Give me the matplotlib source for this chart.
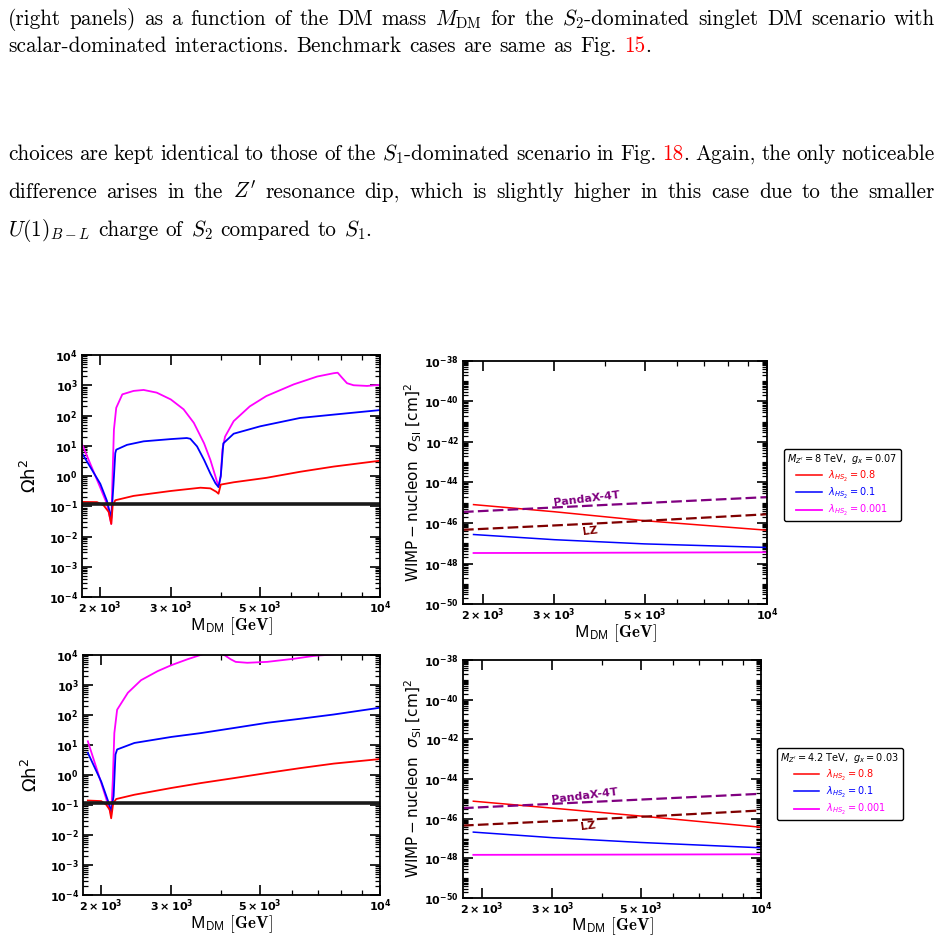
import matplotlib
matplotlib.use('Agg')
import matplotlib.pyplot as plt
import numpy as np
from matplotlib.ticker import LogLocator, LogFormatterSciNotation, NullFormatter

plt.rcParams['mathtext.fontset'] = 'dejavusans'

# ---------------- data ----------------
# relic density, M_Z' = 8 TeV, g_x = 0.07 (top row)
m8_red = [1800, 1962, 2039, 2099, 2130, 2148, 2180, 2422, 3000, 3559, 3768, 3900, 3948, 4000, 4308, 5200, 6316, 7660, 10000]
om8_red = [0.139, 0.137, 0.107, 0.065, 0.026, 0.107, 0.158, 0.22, 0.32, 0.41, 0.39, 0.30, 0.26, 0.52, 0.62, 0.87, 1.38, 2.05, 3.2]
m8_blue = [1800, 2000, 2078, 2130, 2157, 2180, 2192, 2332, 2566, 3000, 3290, 3357, 3490, 3634, 3768, 3881, 3948, 4000, 4060, 4308, 5021, 6316, 7660, 10000]
om8_blue = [5.7, 0.55, 0.15, 0.04, 0.5, 5.7, 7.4, 10.7, 14.0, 16.6, 18.0, 17.0, 9.5, 3.4, 1.2, 0.57, 0.43, 1.0, 12.0, 25.0, 44.0, 83.0, 107.0, 151.0]
m8_mag = [1800, 2000, 2078, 2130, 2148, 2163, 2192, 2270, 2422, 2566, 2767, 3000, 3230, 3426, 3634, 3768, 3881, 3948, 4000, 4038, 4100, 4308, 4726, 5200, 6088, 6966, 7660, 7838, 8030, 8270, 8590, 9280, 10000]
om8_mag = [11.4, 0.41, 0.12, 0.026, 1.6, 34.0, 180.0, 500.0, 650.0, 700.0, 570.0, 340.0, 160.0, 57.0, 12.0, 3.4, 0.95, 0.44, 1.0, 7.5, 20.0, 65.0, 200.0, 440.0, 1070.0, 1940.0, 2500.0, 2600.0, 1800.0, 1170.0, 1000.0, 950.0, 1030.0]

# relic density, M_Z' = 4.2 TeV, g_x = 0.03 (bottom row)
m42_red = [1851, 2000, 2059, 2099, 2118, 2143, 2180, 2422, 3000, 3559, 4308, 5213, 6316, 7658, 10000]
om42_red = [0.141, 0.135, 0.102, 0.07, 0.036, 0.115, 0.158, 0.22, 0.37, 0.54, 0.79, 1.17, 1.7, 2.4, 3.4]
m42_blue = [1851, 2000, 2087, 2118, 2148, 2171, 2192, 2422, 3000, 3559, 4308, 5213, 6316, 7658, 10000]
om42_blue = [5.5, 0.6, 0.12, 0.062, 0.2, 4.8, 7.1, 11.7, 18.6, 25.0, 37.0, 55.0, 75.0, 104.0, 175.0]
m42_mag = [1851, 2000, 2087, 2118, 2138, 2157, 2192, 2332, 2517, 2770, 3000, 3290, 3488, 3700, 3900, 4069, 4224, 4346, 4647, 5213, 6084, 6810, 7658, 10000]
om42_mag = [13.3, 0.54, 0.09, 0.047, 0.69, 25.0, 150.0, 550.0, 1450.0, 2900.0, 4600.0, 7200.0, 9300.0, 12000.0, 13000.0, 10000.0, 7200.0, 5900.0, 5500.0, 5900.0, 7500.0, 9300.0, 10500.0, 13000.0]

omega_planck = 0.12

# direct detection, sigma_SI [cm^2]
m_dd = [1900, 3000, 5000, 10000]
sig8_red = [8.1e-46, 3.6e-46, 1.3e-46, 4.4e-47]
sig8_blue = [2.7e-47, 1.5e-47, 9.3e-48, 6.2e-48]
sig8_mag = [3.3e-48, 3.35e-48, 3.45e-48, 3.6e-48]
sig42_red = [7.6e-46, 3.4e-46, 1.35e-46, 3.7e-47]
sig42_blue = [2.1e-47, 1.1e-47, 6.3e-48, 3.4e-48]
sig42_mag = [1.5e-48, 1.52e-48, 1.55e-48, 1.6e-48]

m_limit = [1790, 4000, 10000]
pandax_top = [3.5e-46, 7.8e-46, 1.9e-45]
lz_top = [4.6e-47, 1.0e-46, 2.7e-46]
pandax_bot = [3.4e-46, 7.4e-46, 1.8e-45]
lz_bot = [4.5e-47, 9.8e-47, 2.6e-46]

lambda_labels = [r'$\lambda_{HS_2} = 0.8$', r'$\lambda_{HS_2} = 0.1$', r'$\lambda_{HS_2} = 0.001$']
bench_titles = [r"$M_{Z'} = 8$ TeV,  $g_x = 0.07$", r"$M_{Z'} = 4.2$ TeV,  $g_x = 0.03$"]
x_ticks = [2000, 3000, 5000, 10000]

# ---------------- page ----------------
W, H = 946, 939
fig = plt.figure(figsize=(W / 100, H / 100), dpi=100)

REF_RED = '#ff0000'
FS_TEXT = 15.3
TEXT_KW = dict(fontfamily='cmr10', math_fontfamily='cm', fontsize=FS_TEXT,
               va='baseline', ha='left')
X_LEFT, X_RIGHT = 8, 935


def put_line(line, y_px, justify=True):
    rend = fig.canvas.get_renderer()
    parts = []
    for word in line.split(' '):
        texts = []
        for i, s in enumerate(word.split('|')):
            if s:
                texts.append(fig.text(0, 1 - y_px / H, s,
                                      color=REF_RED if i % 2 else 'black', **TEXT_KW))
        parts.append((texts, [t.get_window_extent(rend).width for t in texts]))
    total = sum(sum(w) for _, w in parts)
    if justify:
        gap = (X_RIGHT - X_LEFT - total) / (len(parts) - 1)
    else:
        gap = 0.36 * FS_TEXT * 100 / 72
    x = X_LEFT
    for texts, widths in parts:
        for t, w in zip(texts, widths):
            t.set_x(x / W)
            x += w
        x += gap


put_line(r'(right panels) as a function of the DM mass $M_{\mathrm{DM}}$ for the $S_2$-dominated singlet DM scenario with', 25)
put_line(r'scalar-dominated interactions. Benchmark cases are same as Fig. |15|.', 52, justify=False)
put_line(r'choices are kept identical to those of the $S_1$-dominated scenario in Fig. |18|. Again, the only noticeable', 160)
put_line(r"difference arises in the $Z'$ resonance dip, which is slightly higher in this case due to the smaller", 198)
put_line(r'$U(1)_{B-L}$ charge of $S_2$ compared to $S_1$.', 236, justify=False)


def add_axes(l, t, r, b):
    return fig.add_axes([l / W, 1 - b / H, (r - l) / W, (b - t) / H])


def style(ax):
    ax.set_xscale('log')
    ax.set_yscale('log')
    ax.set_xticks(x_ticks)
    ax.xaxis.set_major_formatter(LogFormatterSciNotation(minor_thresholds=(np.inf, np.inf)))
    ax.xaxis.set_minor_formatter(NullFormatter())
    ax.yaxis.set_minor_formatter(NullFormatter())
    ax.tick_params(which='both', direction='in', top=True, right=True, labelsize=8, pad=3)
    ax.tick_params(axis='x', which='major', pad=1.5)
    ax.tick_params(which='major', length=7, width=1.2)
    ax.tick_params(which='minor', length=3.5, width=0.9)
    for sp in ax.spines.values():
        sp.set_linewidth(1.3)
    ax.set_xlabel(r'$\mathsf{M_{DM}}\ \mathbf{[GeV]}$', math_fontfamily='cm',
                  fontsize=12, labelpad=0)


def bold_ticks(ax):
    plt.setp(ax.get_xticklabels() + ax.get_yticklabels(), fontweight='bold')


def relic(ax, red, blue, mag):
    ax.plot(mag[0], mag[1], color='magenta', lw=1.3)
    ax.plot(blue[0], blue[1], color='blue', lw=1.3)
    ax.plot(red[0], red[1], color='red', lw=1.3)
    ax.axhline(omega_planck, color='#1a1a1a', lw=2.6)
    style(ax)
    ax.set_xlim(1800, 10000)
    ax.set_ylim(1e-4, 1e4)
    ax.set_yticks(10.0 ** np.arange(-4, 5))
    ax.yaxis.set_minor_locator(LogLocator(base=10, subs=np.arange(2, 10), numticks=100))
    ax.set_ylabel(r'$\mathrm{\Omega h^2}$', fontsize=13, labelpad=6)
    bold_ticks(ax)


def direct(ax, red, blue, mag, pandax, lz, title, pos_pandax, pos_lz, leg_xy):
    h1, = ax.plot(m_dd, red, color='red', lw=1.1)
    h2, = ax.plot(m_dd, blue, color='blue', lw=1.1)
    h3, = ax.plot(m_dd, mag, color='magenta', lw=1.3)
    ax.plot(m_limit, pandax, color='purple', lw=1.6, dashes=(4.8, 1.9))
    ax.plot(m_limit, lz, color='#7f0000', lw=1.6, dashes=(4.8, 1.9))
    ax.text(pos_pandax[0], pos_pandax[1], 'PandaX-4T', color='purple', fontsize=8,
            fontweight='bold', rotation=7, ha='center', va='center')
    ax.text(pos_lz[0], pos_lz[1], 'LZ', color='#7f0000', fontsize=8,
            fontweight='bold', rotation=7, ha='center', va='center')
    style(ax)
    ax.set_xlim(1790, 10000)
    ax.set_ylim(1e-50, 1e-38)
    ax.set_yticks(10.0 ** np.arange(-50, -37, 2))
    ax.yaxis.set_minor_locator(LogLocator(base=10, subs=np.arange(1, 10), numticks=100))
    ax.set_ylabel(r'$\mathrm{WIMP-nucleon}\ \ \sigma_{\mathrm{SI}}\ [\mathrm{cm}]^2$',
                  fontsize=11, labelpad=0.5)
    bold_ticks(ax)
    leg = ax.legend([h1, h2, h3], lambda_labels, loc='upper left',
                    bbox_to_anchor=(leg_xy[0] / W, 1 - leg_xy[1] / H),
                    bbox_transform=fig.transFigure, borderaxespad=0, title=title,
                    prop={'size': 7}, title_fontproperties={'size': 7},
                    labelcolor='linecolor', framealpha=1, edgecolor='black',
                    handlelength=2.6, handletextpad=0.7, borderpad=0.35,
                    labelspacing=0.22)
    leg.get_frame().set_linewidth(1.0)


ax1 = add_axes(82, 355, 380, 597)
relic(ax1, (m8_red, om8_red), (m8_blue, om8_blue), (m8_mag, om8_mag))

ax2 = add_axes(463, 361, 767, 604)
direct(ax2, sig8_red, sig8_blue, sig8_mag, pandax_top, lz_top, bench_titles[0],
       (3614, 1.5e-45), (3686, 4.2e-47), (784, 449))

ax3 = add_axes(83, 655, 380, 895)
relic(ax3, (m42_red, om42_red), (m42_blue, om42_blue), (m42_mag, om42_mag))

ax4 = add_axes(463, 660, 761, 898)
direct(ax4, sig42_red, sig42_blue, sig42_mag, pandax_bot, lz_bot, bench_titles[1],
       (3606, 1.4e-45), (3692, 4.1e-47), (777, 748))
ax4.xaxis.labelpad = -1

fig.savefig('out.png', dpi=100)
